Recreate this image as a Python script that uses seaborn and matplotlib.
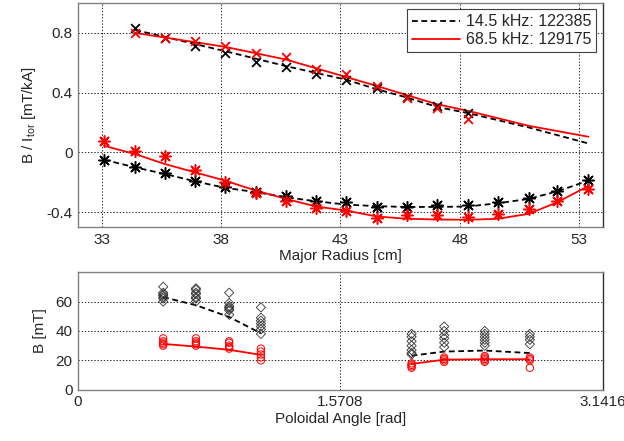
import numpy as np
import pandas as pd
import matplotlib
matplotlib.use("Agg")
import matplotlib.pyplot as plt
import seaborn as sns
from matplotlib.lines import Line2D

sns.set_style("white")
plt.rcParams['font.family'] = ['Liberation Sans', 'DejaVu Sans']
plt.rcParams['mathtext.fontset'] = 'custom'
plt.rcParams['mathtext.rm'] = 'Liberation Sans'
plt.rcParams['mathtext.it'] = 'Liberation Sans'

# ---------------- top panel data ----------------
x_upper = [34.4, 35.63, 36.9, 38.17, 39.47, 40.72, 41.98, 43.24, 44.53, 45.8, 47.05, 48.36]
black_upper = [0.833, 0.767, 0.716, 0.667, 0.607, 0.571, 0.523, 0.483, 0.429, 0.371, 0.311, 0.267]
red_upper = [0.800, 0.767, 0.745, 0.716, 0.667, 0.638, 0.556, 0.523, 0.445, 0.367, 0.300, 0.223]

x_lower = [33.1, 34.4, 35.63, 36.9, 38.17, 39.47, 40.72, 41.98, 43.24, 44.53, 45.8, 47.05,
           48.36, 49.6, 50.9, 52.1, 53.4]
black_lower = [-0.049, -0.100, -0.138, -0.189, -0.233, -0.262, -0.293, -0.322, -0.333, -0.362,
               -0.362, -0.355, -0.355, -0.329, -0.307, -0.256, -0.182]
red_lower = [0.078, 0.011, -0.027, -0.117, -0.200, -0.273, -0.327, -0.371, -0.389, -0.437,
             -0.422, -0.422, -0.429, -0.411, -0.382, -0.327, -0.244]

fit_x_upper = [34.4, 38.17, 40.72, 43.24, 44.53, 45.8, 47.05, 48.36, 50.9, 53.4]
fit_black_upper = [0.820, 0.678, 0.578, 0.487, 0.423, 0.367, 0.305, 0.263, 0.167, 0.060]
fit_red_upper = [0.800, 0.707, 0.622, 0.505, 0.445, 0.383, 0.323, 0.278, 0.178, 0.105]

fit_black_lower = [-0.049, -0.100, -0.144, -0.193, -0.237, -0.266, -0.300, -0.327, -0.349,
                   -0.360, -0.365, -0.365, -0.362, -0.340, -0.311, -0.260, -0.189]
fit_red_lower = [0.044, -0.011, -0.077, -0.133, -0.189, -0.256, -0.311, -0.362, -0.389,
                 -0.429, -0.444, -0.449, -0.451, -0.444, -0.411, -0.333, -0.224]

legend_labels = ["14.5 kHz: 122385", "68.5 kHz: 129175"]

# ---------------- bottom panel data ----------------
angles = [0.510, 0.706, 0.905, 1.095, 1.997, 2.192, 2.435, 2.705]
black_groups = [[70, 66, 65, 64, 63, 62, 60], [69, 68, 66, 65, 63, 62, 60],
                [66, 59, 57, 56, 55, 54, 51], [56, 49, 47, 45, 43, 41, 38],
                [38, 36, 33, 30, 27, 25, 24], [43, 40, 37, 35, 32, 29],
                [40, 38, 36, 34, 32, 30], [38, 36, 34, 31]]
red_groups = [[35, 33, 32, 31, 30], [35, 33, 32, 31, 30], [33, 32, 30, 29, 28],
              [28, 26, 24, 22, 20], [18, 17, 16, 15], [22, 21, 20, 19],
              [23, 22, 21, 20, 19], [22, 21, 20, 15]]
black_fit_bottom = [63, 57.5, 49.5, 38.4, 23.2, 26.0, 26.7, 25.0]
red_fit_bottom = [31.2, 29.4, 27.2, 23.8, 17.6, 20.5, 20.8, 20.8]
segment = ["left", "left", "left", "left", "right", "right", "right", "right"]

x_ticks_bottom = [0, 1.5708, 3.1416]
x_ticklabels_bottom = ["0", "1.5708", "3.1416"]

# ---------------- figure ----------------
fig = plt.figure(figsize=(6.24, 4.41), dpi=100)
ax1 = fig.add_axes([0.125, 0.485, 0.841, 0.508])
ax2 = fig.add_axes([0.125, 0.116, 0.841, 0.267])

dash = (3.2, 2.0)
star = (8, 2, 0)

def style_axes(ax):
    for s in ["left", "bottom", "top"]:
        ax.spines[s].set_color("#808080")
        ax.spines[s].set_linewidth(1.0)
    ax.spines["right"].set_color("#303030")
    ax.spines["right"].set_linewidth(1.0)
    ax.tick_params(direction="in", length=3, width=0.6, labelsize=11, colors="#262626",
                   pad=4)
    ax.grid(True, color="black", linestyle=(0, (1.6, 2.2)), linewidth=0.6)
    ax.set_axisbelow(True)

# top panel
up = pd.DataFrame({"x": x_upper, "black": black_upper, "red": red_upper})
lo = pd.DataFrame({"x": x_lower, "black": black_lower, "red": red_lower,
                   "fb": fit_black_lower, "fr": fit_red_lower})
fu = pd.DataFrame({"x": fit_x_upper, "fb": fit_black_upper, "fr": fit_red_upper})

sns.lineplot(data=fu, x="x", y="fb", ax=ax1, color="black", lw=1.3, dashes=False,
             linestyle=(0, dash), zorder=3)
sns.lineplot(data=fu, x="x", y="fr", ax=ax1, color="red", lw=1.3, zorder=4)
sns.lineplot(data=lo, x="x", y="fb", ax=ax1, color="black", lw=1.3,
             linestyle=(0, dash), zorder=3)
sns.lineplot(data=lo, x="x", y="fr", ax=ax1, color="red", lw=1.3, zorder=4)

sns.scatterplot(data=up, x="x", y="black", ax=ax1, marker="x", color="black", s=40,
                linewidth=1.3, zorder=5)
sns.scatterplot(data=up, x="x", y="red", ax=ax1, marker="x", color="red", s=40,
                linewidth=1.3, zorder=5)
sns.scatterplot(data=lo, x="x", y="black", ax=ax1, marker=star, color="black", s=70,
                linewidth=1.1, zorder=5)
sns.scatterplot(data=lo, x="x", y="red", ax=ax1, marker=star, color="red", s=70,
                linewidth=1.1, zorder=5)

ax1.set_xlim(32, 54)
ax1.set_ylim(-0.5, 1.0)
ax1.set_xticks([33, 38, 43, 48, 53])
ax1.set_yticks([-0.4, 0, 0.4, 0.8])
ax1.set_yticklabels(["-0.4", "0", "0.4", "0.8"])
ax1.set_xlabel("Major Radius [cm]", fontsize=11, labelpad=2)
ax1.set_ylabel("B / I$_{tor}$ [mT/kA]", fontsize=11, labelpad=6)
style_axes(ax1)

handles = [Line2D([], [], color="black", lw=1.3, linestyle=(0, dash)),
           Line2D([], [], color="red", lw=1.3)]
leg = ax1.legend(handles, legend_labels, loc="upper right", fontsize=11.5,
                 frameon=True, fancybox=False, framealpha=1, edgecolor="#404040",
                 borderaxespad=0.4, handlelength=3.0, handletextpad=0.4,
                 borderpad=0.3, labelspacing=0.2)
leg.get_frame().set_linewidth(0.8)

# bottom panel
brows = [(a, v) for a, g in zip(angles, black_groups) for v in g]
rrows = [(a, v) for a, g in zip(angles, red_groups) for v in g]
bdf = pd.DataFrame(brows, columns=["angle", "B"])
rdf = pd.DataFrame(rrows, columns=["angle", "B"])
fdf = pd.DataFrame({"angle": angles, "fb": black_fit_bottom, "fr": red_fit_bottom,
                    "seg": segment})

for seg in ["left", "right"]:
    d = fdf[fdf["seg"] == seg]
    sns.lineplot(data=d, x="angle", y="fb", ax=ax2, color="black", lw=1.3,
                 linestyle=(0, dash), zorder=3)
    sns.lineplot(data=d, x="angle", y="fr", ax=ax2, color="red", lw=1.3, zorder=3)

sns.scatterplot(data=bdf, x="angle", y="B", ax=ax2, marker="D", s=22,
                facecolors="none", edgecolor="#333333", linewidth=0.6, zorder=4)
sns.scatterplot(data=rdf, x="angle", y="B", ax=ax2, marker="o", s=28,
                facecolors="none", edgecolor="red", linewidth=0.7, zorder=4)

ax2.set_xlim(0, np.pi)
ax2.set_ylim(0, 80)
ax2.set_xticks(x_ticks_bottom)
ax2.set_xticklabels(x_ticklabels_bottom)
ax2.set_yticks([0, 20, 40, 60])
ax2.set_xlabel("Poloidal Angle [rad]", fontsize=11, labelpad=2)
ax2.set_ylabel("B [mT]", fontsize=11, labelpad=6)
style_axes(ax2)

fig.savefig("out.png", dpi=100)
